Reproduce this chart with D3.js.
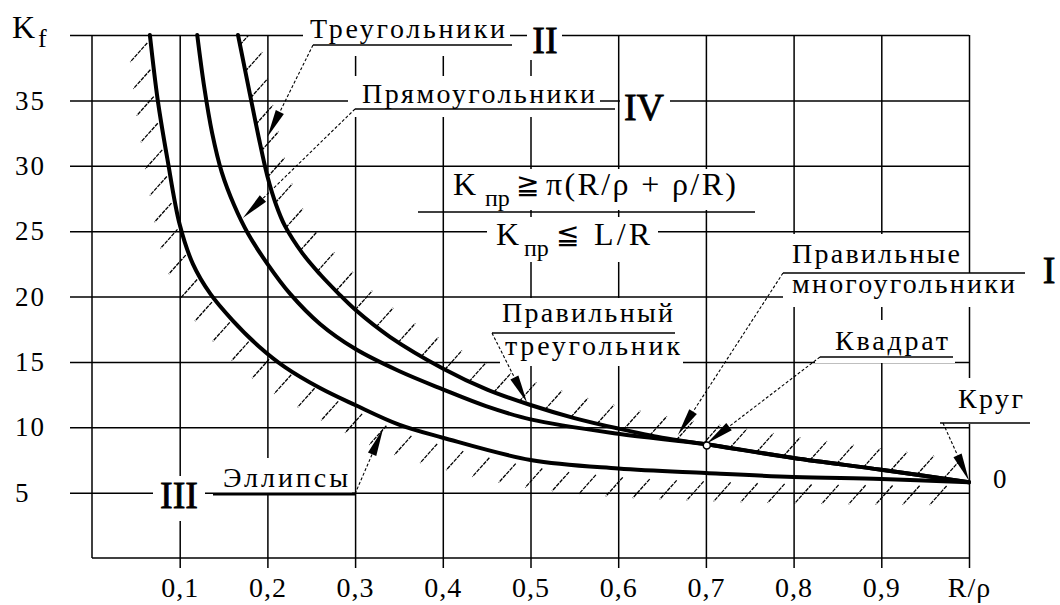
<!DOCTYPE html>
<html lang="ru">
<head>
  <meta charset="UTF-8">
  <title>Kf — R/ρ</title>
  <script src="https://cdnjs.cloudflare.com/ajax/libs/d3/7.8.5/d3.min.js"></script>
  <style>
    body { margin: 0; background: #fff; }
    svg { display: block; }
    text { font-family: "Liberation Serif", "Times New Roman", serif; fill: #000; }
    .grid line { stroke: #000; stroke-width: 1.5px; }
    .grid text { font-size: 27px; letter-spacing: 2px; }
    .curve { fill: none; stroke: #000; stroke-width: 4px; stroke-linejoin: round; stroke-linecap: round; }
    .hatch line { stroke: #000; stroke-width: 1.3px; stroke-dasharray: 4 1; }
    .leader { stroke: #000; stroke-width: 1.1px; stroke-dasharray: 3 2; fill: none; }
    .rule { stroke: #000; stroke-width: 1.5px; }
    .roman { stroke: #000; stroke-width: 0.8px; }
  </style>
</head>
<body>
<svg id="chart" width="1060" height="605"></svg>

<script>
  // axis ticks and labels
  const xTicks = [0.1, 0.2, 0.3, 0.4, 0.5, 0.6, 0.7, 0.8, 0.9, 1.0];
  const xTickLabels = ["0,1", "0,2", "0,3", "0,4", "0,5", "0,6", "0,7", "0,8", "0,9", "R/ρ"];
  const yTicks = [5, 10, 15, 20, 25, 30, 35, 40];
  const yTickLabels = ["5", "10", "15", "20", "25", "30", "35", ""];

  // curves [R/ρ, Kf]
  const ellipses = [[0.066, 40], [0.075, 35], [0.086, 30.5], [0.1, 25.5], [0.115, 22.5], [0.135, 20.2],
    [0.16, 18.2], [0.19, 16.2], [0.22, 14.6], [0.26, 13.0], [0.3, 11.7], [0.35, 10.2], [0.4, 9.2],
    [0.5, 7.5], [0.6, 6.85], [0.7, 6.5], [0.8, 6.2], [0.9, 6.05], [1.0, 5.8]];
  const rectangles = [[0.12, 40], [0.128, 36], [0.137, 32.5], [0.148, 29.5], [0.162, 27], [0.178, 24.8],
    [0.2, 22.5], [0.226, 20.2], [0.26, 17.9], [0.3, 16.0], [0.35, 14.3], [0.4, 12.9], [0.45, 11.6],
    [0.5, 10.6], [0.6, 9.5], [0.7, 8.7], [0.8, 7.65], [0.9, 6.75], [1.0, 5.8]];
  const triangles = [[0.1665, 40], [0.18, 35.5], [0.19, 32.2], [0.2, 29.2], [0.21, 27.0], [0.22, 25.4],
    [0.24, 23.3], [0.26, 21.7], [0.28, 20.3], [0.3, 19.0], [0.34, 16.9], [0.4, 14.5], [0.45, 12.9],
    [0.5, 11.7], [0.55, 10.7], [0.6, 9.9], [0.65, 9.2], [0.7, 8.7], [0.8, 7.65], [0.9, 6.75], [1.0, 5.8]];
  // lower border of the allowed region (hatched below)
  const lowerBorder = [[0.062, 40], [0.071, 35], [0.082, 30.5], [0.096, 25.5], [0.111, 22.5], [0.131, 20.1],
    [0.156, 18.1], [0.186, 16.1], [0.216, 14.5], [0.256, 12.9], [0.3, 11.3], [0.35, 9.7], [0.4, 8.6],
    [0.5, 7.0], [0.6, 6.2], [0.7, 5.85], [0.8, 5.65], [0.9, 5.55], [1.0, 5.5]];

  const svg = d3.select("#chart");
  const x = d3.scaleLinear().domain([0, 1]).range([92, 969]);
  const y = d3.scaleLinear().domain([0, 40]).range([558, 35]);

  const line = d3.line()
    .x(d => x(d[0]))
    .y(d => y(d[1]))
    .curve(d3.curveCatmullRom.alpha(0.5));

  // grid: horizontal lines + y labels
  svg.append("g")
    .attr("class", "grid")
    .attr("transform", "translate(70,0)")
    .call(d3.axisLeft(y).tickValues(yTicks).tickSize(-(x(1) - 70)).tickFormat((d, i) => yTickLabels[i]))
    .call(g => g.attr("font-family", null).attr("font-size", null))
    .call(g => g.select(".domain").remove())
    .call(g => g.selectAll("text").attr("x", -55).attr("text-anchor", "start"));

  // grid: vertical lines + x labels
  svg.append("g")
    .attr("class", "grid")
    .attr("transform", "translate(0,568)")
    .call(d3.axisBottom(x).tickValues(xTicks).tickSize(-(568 - y(40))).tickPadding(9)
      .tickFormat((d, i) => xTickLabels[i]))
    .call(g => g.attr("font-family", null).attr("font-size", null))
    .call(g => g.select(".domain").remove())
    .call(g => g.selectAll("text").style("font-size", "28px").style("letter-spacing", "1px"));

  // frame left / bottom
  svg.append("line").attr("class", "rule")
    .attr("x1", x(0)).attr("x2", x(0)).attr("y1", y(40)).attr("y2", y(0));
  svg.append("line").attr("class", "rule")
    .attr("x1", x(0)).attr("x2", x(1)).attr("y1", y(0)).attr("y2", y(0));

  // white boxes behind the labels (they cut the grid like in the original)
  const boxes = [
    [303, 12, 510, 56], [527, 18, 562, 60], [348, 76, 600, 117], [620, 84, 670, 126],
    [449, 169, 742, 210], [487, 217, 658, 262],
    [495, 298, 680, 333], [500, 333, 683, 366],
    [783, 234, 965, 273], [783, 273, 1025, 307],
    [815, 320, 955, 363], [935, 378, 1032, 424],
    [213, 458, 352, 493], [153, 476, 205, 521]
  ];
  svg.append("g").selectAll("rect").data(boxes).join("rect")
    .attr("x", d => d[0]).attr("y", d => d[1])
    .attr("width", d => d[2] - d[0]).attr("height", d => d[3] - d[1])
    .attr("fill", "#fff");

  // underlines and fraction bar
  const rules = [
    [313, 45, 512, 45], [355, 109, 615, 109], [418, 212, 755, 212],
    [492, 333, 675, 333], [783, 273, 1025, 273], [820, 357, 953, 357], [940, 423, 1030, 423]
  ];
  svg.append("g").selectAll("line").data(rules).join("line")
    .attr("class", "rule")
    .attr("x1", d => d[0]).attr("y1", d => d[1]).attr("x2", d => d[2]).attr("y2", d => d[3]);
  svg.append("line").attr("stroke", "#000").attr("stroke-width", 3)
    .attr("x1", 213).attr("x2", 356).attr("y1", 494).attr("y2", 494);

  // hatching
  svg.append("clipPath").attr("id", "plot")
    .append("rect").attr("x", x(0)).attr("y", y(40)).attr("width", x(1) - x(0)).attr("height", y(0) - y(40));
  const hatchG = svg.append("g").attr("class", "hatch").attr("clip-path", "url(#plot)");

  function hatch(series, dir, step, start) {
    const p = svg.append("path").attr("d", line(series)).attr("fill", "none").node();
    const len = p.getTotalLength();
    const pts = [];
    for (let s = start; s < len - 4; s += step) pts.push(p.getPointAtLength(s));
    p.remove();
    hatchG.append("g").selectAll("line").data(pts).join("line")
      .attr("x1", d => d.x).attr("y1", d => d.y)
      .attr("x2", d => d.x + 17 * dir).attr("y2", d => d.y - 19 * dir);
  }
  hatch(triangles, 1, 27, 10);
  hatch(lowerBorder, -1, 27, 8);

  // the three curves
  svg.append("g").selectAll("path")
    .data([ellipses, rectangles, triangles])
    .join("path")
    .attr("class", "curve")
    .attr("d", line);

  // leaders with arrows
  const leaders = [
    { from: [313, 45], tip: [0.2, 32.2] },
    { from: [355, 109], tip: [0.172, 26.0] },
    { from: [492, 333], tip: [0.496, 11.9] },
    { from: [783, 273], tip: [0.668, 9.4] },
    { from: [820, 357], tip: [0.701, 8.75] },
    { from: [943, 423], tip: [1.0, 5.9] },
    { from: [355, 494], tip: [0.332, 9.9] }
  ];
  const lg = svg.append("g");
  leaders.forEach(l => {
    const tx = x(l.tip[0]), ty = y(l.tip[1]);
    const dx = tx - l.from[0], dy = ty - l.from[1];
    const n = Math.hypot(dx, dy), ux = dx / n, uy = dy / n;
    const L = 28, w = 4.5;
    const bx = tx - ux * L, by = ty - uy * L;
    lg.append("line").attr("class", "leader")
      .attr("x1", l.from[0]).attr("y1", l.from[1]).attr("x2", bx).attr("y2", by);
    lg.append("path")
      .attr("d", `M${tx},${ty}L${bx - uy * w},${by + ux * w}L${bx + uy * w},${by - ux * w}Z`)
      .attr("fill", "#000");
  });
  svg.append("circle").attr("cx", x(0.701)).attr("cy", y(8.6)).attr("r", 3.5)
    .attr("fill", "#fff").attr("stroke", "#000").attr("stroke-width", 1.5);

  // labels
  function label(txt, px, py, size, len, anchor) {
    const t = svg.append("text").attr("x", px).attr("y", py).style("font-size", size + "px").text(txt);
    if (len) t.attr("textLength", len).attr("lengthAdjust", "spacing");
    if (anchor) t.attr("text-anchor", anchor);
    return t;
  }
  label("K", 12, 38, 32);
  label("f", 38, 47, 26);

  label("Треугольники", 310, 38, 28, 195);
  label("II", 545, 53, 38, null, "middle").attr("class", "roman");
  label("Прямоугольники", 362, 103, 28, 233);
  label("IV", 644, 120, 38, null, "middle").attr("class", "roman");

  label("K", 453, 195, 32);
  label("пр", 485, 206, 24);
  label("≧", 516, 194, 28);
  label("π(R/ρ + ρ/R)", 546, 195, 32, 190);
  label("K", 496, 245, 32);
  label("пр", 524, 256, 24);
  label("≦", 556, 244, 28);
  label("L/R", 594, 245, 32, 56);

  label("Правильный", 502, 322, 28, 171);
  label("треугольник", 505, 355, 28, 175);
  label("Правильные", 792, 263, 28, 168);
  label("многоугольники", 792, 293, 28, 223);
  label("I", 1049, 283, 38, null, "middle").attr("class", "roman");
  label("Квадрат", 835, 350, 28, 113);
  label("Круг", 958, 408, 28, 65);
  label("0", 993, 488, 27);
  label("Эллипсы", 223, 487, 28, 125);
  label("III", 179, 508, 38, null, "middle").attr("class", "roman");
</script>
</body>
</html>
